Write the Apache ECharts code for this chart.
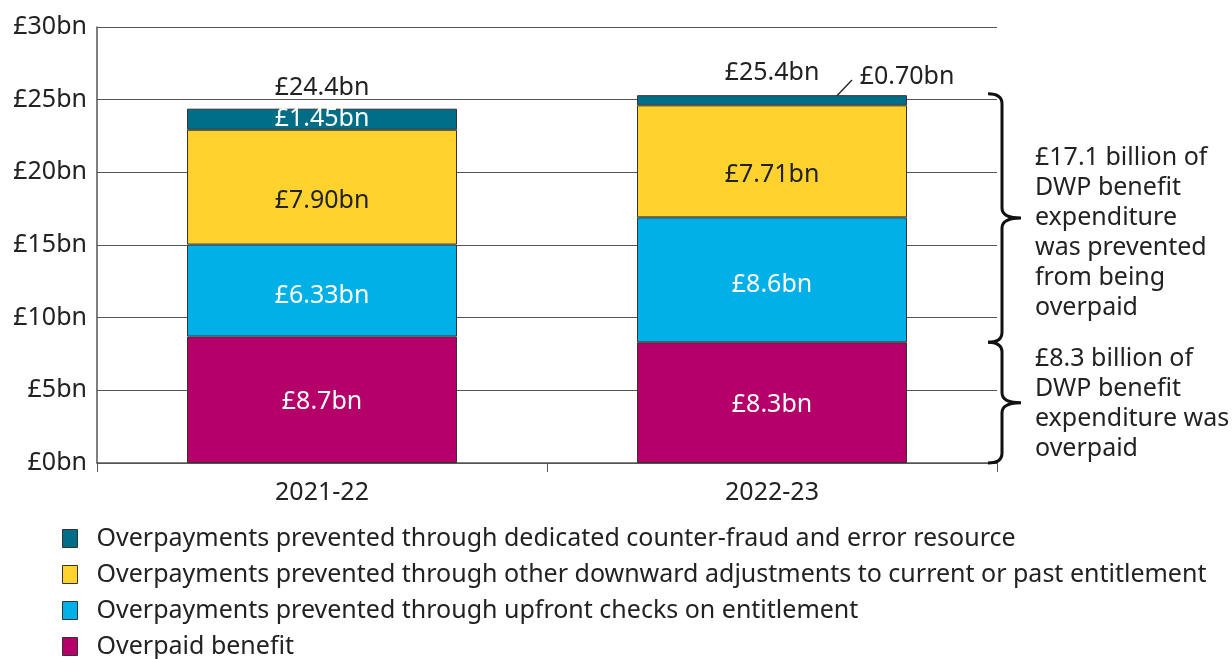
<!DOCTYPE html>
<html>
<head>
<meta charset="utf-8">
<script src="https://cdn.jsdelivr.net/npm/echarts@6/dist/echarts.min.js"></script>
<style>
  html, body { margin: 0; padding: 0; background: #fff; }
  #main { width: 1232px; height: 659px; }
</style>
</head>
<body>
<div id="main"></div>
<script>
// data
var years = ['2021-22', '2022-23'];
var overpaid = [8.7, 8.3];
var upfront = [6.33, 8.6];
var downward = [7.90, 7.71];
var counterFraud = [1.45, 0.70];
var totals = [24.4, 25.4];
var yTicks = [0, 5, 10, 15, 20, 25, 30];

var seriesNames = [
  'Overpayments prevented through dedicated counter-fraud and error resource',
  'Overpayments prevented through other downward adjustments to current or past entitlement',
  'Overpayments prevented through upfront checks on entitlement',
  'Overpaid benefit'
];

// brace annotations (value ranges on the y axis)
var braceFrom = [8.3, 0];
var braceTo = [25.4, 8.3];
var braceText = [
  '£17.1 billion of\nDWP benefit\nexpenditure\nwas prevented\nfrom being\noverpaid',
  '£8.3 billion of\nDWP benefit\nexpenditure was\noverpaid'
];

var FONT = '"Noto Sans", sans-serif';
var FS = 25;
var chart = echarts.init(document.getElementById('main'));

function fmt(v, digits) {
  return '£' + v.toFixed(digits) + 'bn';
}

var labelFont = { fontFamily: FONT, fontSize: FS };

function barSeries(name, values, color, textColor, digits, offset) {
  return {
    name: name,
    type: 'bar',
    stack: 'total',
    barWidth: '60%',
    itemStyle: { color: color, borderColor: '#333', borderWidth: 1 },
    label: Object.assign({
      show: true,
      position: 'inside',
      color: textColor,
      offset: offset || [0, 0],
      formatter: function (p) { return fmt(p.value, digits[p.dataIndex]); }
    }, labelFont),
    data: values
  };
}

var fraudSeries = barSeries(seriesNames[0], [
  counterFraud[0],
  {
    value: counterFraud[1],
    label: { position: 'top', color: '#222', distance: 4 }
  }
], '#006e87', '#fff', [2, 2]);
fraudSeries.label.lineHeight = 24;
// move the small 2022-23 value out to the right of the total
fraudSeries.labelLayout = function (p) {
  return p.dataIndex === 1 ? { dx: 135, dy: -2 } : {};
};

var option = {
  backgroundColor: '#fff',
  animation: false,
  grid: { left: 97, right: 235, top: 27, bottom: 196 },
  legend: {
    orient: 'vertical',
    left: 62,
    top: 526,
    padding: 0,
    itemWidth: 15,
    itemHeight: 18,
    itemGap: 11,
    icon: 'rect',
    itemStyle: { borderColor: '#333', borderWidth: 1 },
    textStyle: { fontFamily: FONT, fontSize: FS, lineHeight: 25, color: '#222', padding: [0, 0, 0, 14] },
    data: seriesNames
  },
  xAxis: {
    type: 'category',
    data: years,
    axisLine: { lineStyle: { color: '#555', width: 1.5 } },
    axisTick: { show: true, length: 9, lineStyle: { color: '#555' } },
    axisLabel: { fontFamily: FONT, fontSize: FS, color: '#222', margin: 17 }
  },
  yAxis: {
    type: 'value',
    min: yTicks[0],
    max: yTicks[yTicks.length - 1],
    interval: yTicks[1] - yTicks[0],
    axisLine: { show: true, lineStyle: { color: '#555', width: 1.5 } },
    axisTick: { show: false },
    axisLabel: {
      fontFamily: FONT, fontSize: FS, color: '#222', margin: 10,
      formatter: function (v) { return '£' + v + 'bn'; }
    },
    splitLine: { lineStyle: { color: '#555', width: 1.2 } }
  },
  series: [
    barSeries(seriesNames[3], overpaid, '#b5006a', '#fff', [1, 1], [0, 2]),
    barSeries(seriesNames[2], upfront, '#00b0e6', '#fff', [2, 1], [0, 5]),
    barSeries(seriesNames[1], downward, '#ffd22e', '#222', [2, 2], [0, 14]),
    fraudSeries,
    {
      name: 'totals',
      type: 'scatter',
      symbolSize: 0,
      silent: true,
      itemStyle: { opacity: 1 },
      label: Object.assign({
        show: true,
        position: 'top',
        distance: 8,
        color: '#222',
        formatter: function (p) { return fmt(p.value, 1); }
      }, labelFont),
      data: totals
    },
    {
      // leader line from the thin 2022-23 segment to its label
      name: 'leader',
      type: 'custom',
      silent: true,
      data: [[1, totals[1] - counterFraud[1] / 2]],
      renderItem: function (params, api) {
        var p = api.coord([api.value(0), api.value(1)]);
        return {
          type: 'line',
          shape: { x1: p[0] + 57, y1: p[1] + 5, x2: p[0] + 80, y2: p[1] - 19 },
          style: { stroke: '#222', lineWidth: 1.3 }
        };
      }
    },
    {
      name: 'braces',
      type: 'custom',
      silent: true,
      data: braceFrom.map(function (v, i) { return [v, braceTo[i], i]; }),
      renderItem: function (params, api) {
        var cs = params.coordSys;
        var yA = api.coord([0, api.value(1)])[1];
        var yB = api.coord([0, api.value(0)])[1];
        var xr = cs.x + cs.width;
        var x0 = xr - 9, x1 = xr + 5, x2 = xr + 24;
        var ym = (yA + yB) / 2;
        var r = 10;
        var d = 'M' + x0 + ',' + yA +
          ' Q' + x1 + ',' + yA + ' ' + x1 + ',' + (yA + r) +
          ' L' + x1 + ',' + (ym - r) +
          ' Q' + x1 + ',' + ym + ' ' + x2 + ',' + ym +
          ' Q' + x1 + ',' + ym + ' ' + x1 + ',' + (ym + r) +
          ' L' + x1 + ',' + (yB - r) +
          ' Q' + x1 + ',' + yB + ' ' + x0 + ',' + yB;
        return {
          type: 'group',
          children: [
            {
              type: 'path',
              shape: { pathData: d },
              style: { fill: null, stroke: '#111', lineWidth: 3 }
            },
            {
              type: 'text',
              x: xr + 38,
              y: ym + (api.value(2) === 0 ? 15 : 1),
              style: {
                text: braceText[api.value(2)],
                fontFamily: FONT,
                fontSize: FS,
                lineHeight: 30,
                fill: '#222',
                verticalAlign: 'middle',
                align: 'left'
              }
            }
          ]
        };
      }
    }
  ]
};

chart.setOption(option);
</script>
</body>
</html>
